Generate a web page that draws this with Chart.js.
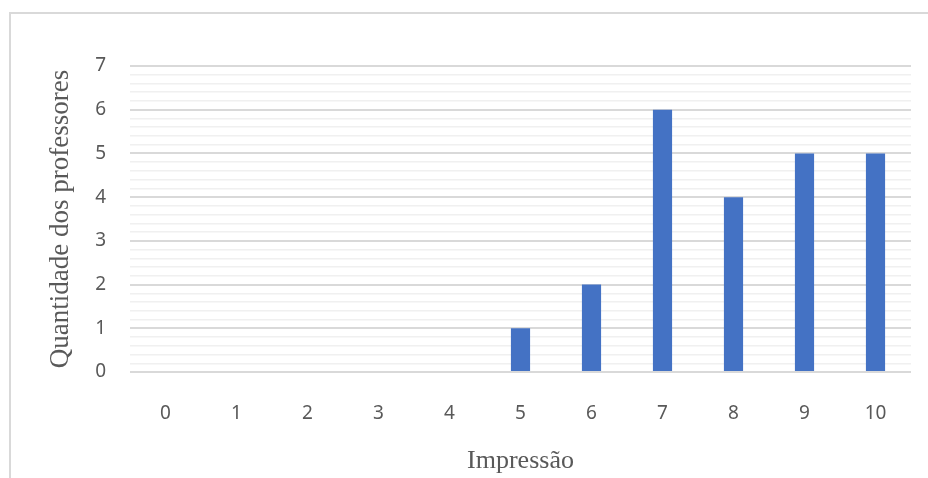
<!DOCTYPE html>
<html>
<head>
<meta charset="utf-8">
<script src="https://cdn.jsdelivr.net/npm/chart.js@4"></script>
<style>
  html, body { margin: 0; padding: 0; background: #fff; }
  #wrap { width: 928px; height: 478px; }
</style>
</head>
<body>
<div id="wrap"><canvas id="chart"></canvas></div>
<script>
// Impressão scores and number of teachers
const categories = ['0', '1', '2', '3', '4', '5', '6', '7', '8', '9', '10'];
const teachers = [0, 0, 0, 0, 0, 1, 2, 6, 4, 5, 5];
const yMax = 7;

const isWhole = v => Math.abs(v - Math.round(v)) < 1e-6;

// light grey frame around the chart, cut off at right and bottom
const framePlugin = {
    id: 'frame',
    beforeDraw(chart) {
        const ctx = chart.ctx;
        ctx.save();
        ctx.strokeStyle = '#d9d9d9';
        ctx.lineWidth = 2;
        ctx.strokeRect(10, 13, chart.width + 20, chart.height + 20);
        ctx.restore();
    }
};

const ctx = document.getElementById('chart').getContext('2d');
const chart = new Chart(ctx, {
    type: 'bar',
    data: {
        labels: categories,
        datasets: [{
            data: teachers,
            backgroundColor: '#4472c4',
            borderWidth: 0,
            categoryPercentage: 1,
            barPercentage: 0.27
        }]
    },
    options: {
        responsive: true,
        maintainAspectRatio: false,
        animation: false,
        layout: { padding: { top: 66, right: 17, left: 0, bottom: 0 } },
        plugins: {
            legend: { display: false },
            tooltip: { enabled: false }
        },
        scales: {
            x: {
                grid: { display: false },
                border: { display: false },
                ticks: {
                    color: '#595959',
                    padding: 22,
                    font: { family: 'Noto Sans', size: 19 }
                },
                title: {
                    display: true,
                    text: 'Impressão',
                    color: '#595959',
                    padding: { top: 0, bottom: 1 },
                    font: { family: 'Liberation Serif', size: 26 }
                },
                afterFit(scale) { scale.height = 106; }
            },
            y: {
                min: 0,
                max: yMax,
                border: { display: false },
                grid: {
                    drawTicks: false,
                    color: c => isWhole(c.tick.value) ? '#d9d9d9' : '#f0f0f0',
                    lineWidth: c => isWhole(c.tick.value) ? 2 : 1.5
                },
                ticks: {
                    stepSize: 0.2,
                    maxTicksLimit: 100,
                    autoSkip: false,
                    padding: 24,
                    color: '#595959',
                    font: { family: 'Noto Sans', size: 19 },
                    callback: v => isWhole(v) ? Math.round(v) : ''
                },
                title: {
                    display: true,
                    text: 'Quantidade dos professores',
                    color: '#595959',
                    padding: { top: 45, bottom: 0 },
                    font: { family: 'Liberation Serif', size: 27 }
                },
                afterFit(scale) { scale.width = 130; }
            }
        }
    },
    plugins: [framePlugin]
});
</script>
</body>
</html>
